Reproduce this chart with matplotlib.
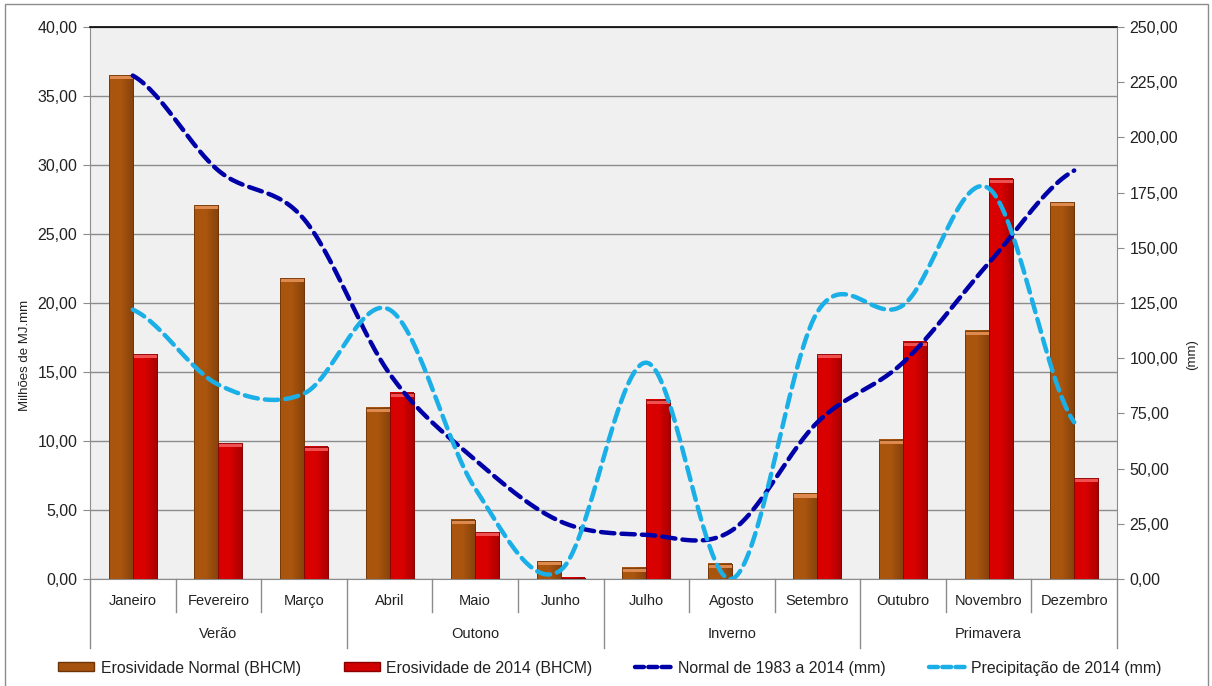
import numpy as np
import matplotlib
matplotlib.use("Agg")
import matplotlib.pyplot as plt
from matplotlib.lines import Line2D
from matplotlib.patches import Patch, Rectangle
from matplotlib.ticker import FuncFormatter, MultipleLocator
from matplotlib.colors import to_rgb

plt.rcParams['font.family'] = ['Liberation Sans', 'DejaVu Sans']

months = ["Janeiro", "Fevereiro", "Março", "Abril", "Maio", "Junho",
          "Julho", "Agosto", "Setembro", "Outubro", "Novembro", "Dezembro"]
seasons = ["Verão", "Outono", "Inverno", "Primavera"]

erosividade_normal = [36.5, 27.1, 21.8, 12.4, 4.3, 1.3, 0.8, 1.1, 6.2, 10.1, 18.0, 27.3]
erosividade_2014 = [16.3, 9.85, 9.57, 13.5, 3.4, 0.1, 13.0, 0.0, 16.3, 17.2, 29.0, 7.3]
normal_1983_2014 = [228, 185, 163, 93, 54, 26, 20, 22, 71, 98, 143, 185]
precip_2014 = [122, 88, 84, 122, 41, 4, 98, 0, 121, 124, 177, 71]

W, H = 1212, 686
fig = plt.figure(figsize=(W / 100, H / 100), dpi=100)
L, R, T, B = 90, 1117, 27, 579
ax = fig.add_axes([L / W, 1 - B / H, (R - L) / W, (B - T) / H])
ax.set_facecolor('#F0F0F0')
ax.set_zorder(1)

x = np.arange(len(months))
bw = 0.28
brown, red = '#A4520E', '#D10000'


def shaded_bars(xc, vals, base, cap, edge):
    rows = ax.bar(xc, vals, bw, color=base, edgecolor=edge, linewidth=0.6, zorder=3)
    b = np.array(to_rgb(base))
    t = np.linspace(0, 1, 40)
    fac = np.where(t < 0.5, 1.04, 1.04 - 0.22 * (t - 0.5) / 0.5)
    grad = np.clip(b[None, :] * fac[:, None], 0, 1)[None, :, :]
    for rect in rows:
        h = rect.get_height()
        if h <= 0:
            continue
        x0 = rect.get_x()
        ax.imshow(grad, extent=(x0, x0 + bw, 0, h), aspect='auto', zorder=3.1,
                  interpolation='bilinear')
        ch = min(0.3, h * 0.5)
        ax.add_patch(Rectangle((x0, h - ch), bw, ch, facecolor=cap, edgecolor='none', zorder=3.2))
        ax.add_patch(Rectangle((x0, 0), bw, h, facecolor='none', edgecolor=edge, lw=0.6, zorder=3.3))
    return rows


shaded_bars(x - bw / 2, erosividade_normal, brown, '#DE8A4E', '#6E3406')
shaded_bars(x + bw / 2, erosividade_2014, red, '#F05050', '#8A0000')

ax.set_xlim(-0.5, len(months) - 0.5)
ax.set_ylim(0, 40)
ax.yaxis.set_major_locator(MultipleLocator(5))
fmt = FuncFormatter(lambda v, p: f"{v:.2f}".replace('.', ','))
ax.yaxis.set_major_formatter(fmt)
ax.grid(axis='y', color='#8C8C8C', linewidth=1, zorder=0)
ax.set_axisbelow(True)
ax.set_xticks([])
ax.tick_params(axis='y', direction='out', length=5, color='#8C8C8C', labelsize=11.5, pad=4, labelcolor='#222222')
for s in ['left', 'right', 'bottom']:
    ax.spines[s].set_color('#8C8C8C')
ax.spines['top'].set_color('black')
ax.spines['top'].set_linewidth(1.2)

ax2 = ax.twinx()
ax2.set_ylim(0, 250)
ax2.yaxis.set_major_locator(MultipleLocator(25))
ax2.yaxis.set_major_formatter(fmt)
ax2.tick_params(axis='y', direction='out', length=5, color='#8C8C8C', labelsize=11.5, pad=4, labelcolor='#222222')
for s in ax2.spines.values():
    s.set_visible(False)


def smooth(vals, n=30):
    p = np.asarray(vals, float)
    xs, ys = [], []
    m = len(p)
    for i in range(m - 1):
        p0 = p[i - 1] if i > 0 else p[i]
        p1, p2 = p[i], p[i + 1]
        p3 = p[i + 2] if i + 2 < m else p[i + 1]
        t = np.linspace(0, 1, n, endpoint=(i == m - 2))
        c1 = p1 + (p2 - p0) / 6
        c2 = p2 - (p3 - p1) / 6
        y = (1 - t) ** 3 * p1 + 3 * (1 - t) ** 2 * t * c1 + 3 * (1 - t) * t ** 2 * c2 + t ** 3 * p2
        xs.append(i + t)
        ys.append(y)
    return np.concatenate(xs), np.concatenate(ys)


dash = (3, 1.6)
sx, sy = smooth(normal_1983_2014)
ax2.plot(sx, sy, color='#0000A8', lw=3.2, dashes=dash, dash_capstyle='round', zorder=4)
sx, sy = smooth(precip_2014)
ax2.plot(sx, sy, color='#1AAFE6', lw=3.2, dashes=dash, dash_capstyle='round', zorder=4)
ax2.set_xlim(-0.5, len(months) - 0.5)

# category axis labels
tr = ax.get_xaxis_transform()
ph = B - T


def fy(py):
    return -(py - B) / ph


for i, mname in enumerate(months):
    ax.text(i, fy(601), mname, transform=tr, ha='center', va='center', fontsize=10.5, color='#222222', clip_on=False)
for k in range(len(months) + 1):
    xb = k - 0.5
    yend = fy(648) if k % 3 == 0 else fy(612)
    ax.plot([xb, xb], [0, yend], transform=tr, color='#8C8C8C', lw=1, clip_on=False, zorder=0)
for j, sname in enumerate(seasons):
    ax.text(3 * j + 1, fy(634), sname, transform=tr, ha='center', va='center', fontsize=10.5, color='#222222', clip_on=False)

fig.text(25 / W, 1 - 355 / H, "Milhões de MJ.mm", rotation=90, ha='center', va='center', fontsize=9.5, color='#222222')
fig.text(1192 / W, 1 - 355 / H, "(mm)", rotation=90, ha='center', va='center', fontsize=9.5, color='#222222')

handles = [
    Patch(facecolor=brown, edgecolor='#6E3406'),
    Patch(facecolor=red, edgecolor='#8A0000'),
    Line2D([0], [0], color='#0000A8', lw=3.2, dashes=(2, 1), dash_capstyle='round'),
    Line2D([0], [0], color='#1AAFE6', lw=3.2, dashes=(2, 1), dash_capstyle='round'),
]
labels = ["Erosividade Normal (BHCM)", "Erosividade de 2014 (BHCM)",
          "Normal de 1983 a 2014 (mm)", "Precipitação de 2014 (mm)"]
fig.legend(handles, labels, loc='center', bbox_to_anchor=(610 / W, 1 - 668 / H), ncol=4,
           frameon=False, fontsize=11.4, handlelength=2.3, handleheight=0.5, columnspacing=2.7,
           handletextpad=0.4, labelcolor='#222222')

fig.patches.append(Rectangle((5 / W, -0.01), (1208 - 5) / W, 1 - 4 / H + 0.01, transform=fig.transFigure,
                             fill=False, edgecolor='#8C8C8C', lw=1))

fig.savefig('out.png', dpi=100)
